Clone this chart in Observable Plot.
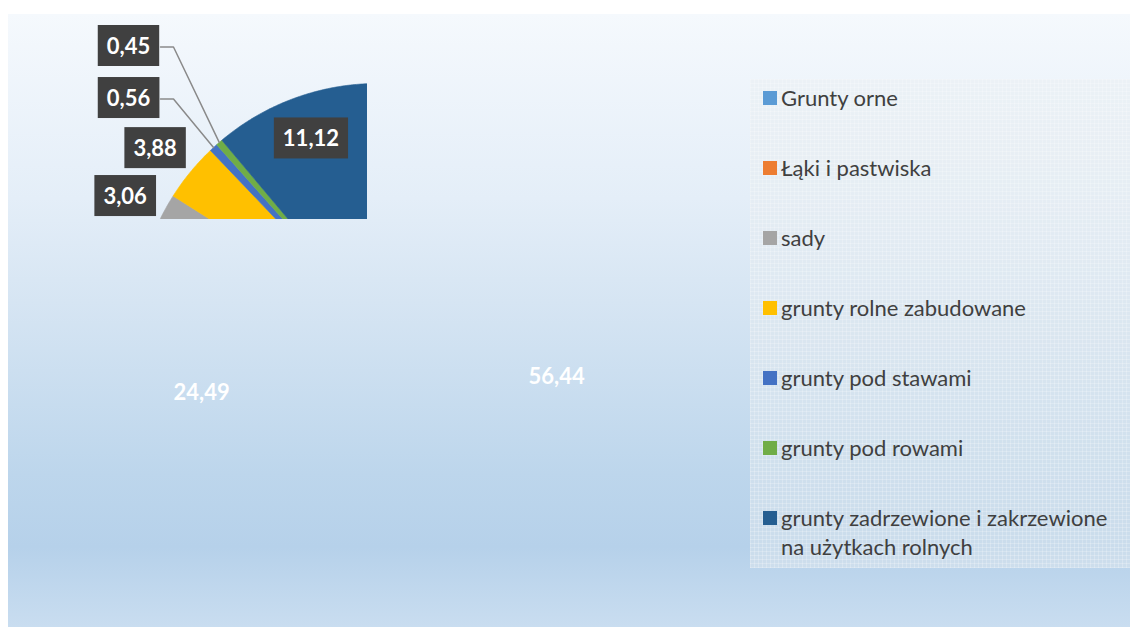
<!DOCTYPE html>
<html>
<head>
<meta charset="utf-8">
<script src="https://cdn.jsdelivr.net/npm/d3@7"></script>
<script src="https://cdn.jsdelivr.net/npm/@observablehq/plot@0.6"></script>
<style>
  html, body { margin: 0; padding: 0; background: #ffffff; }
  #root { position: relative; width: 1130px; height: 628px; overflow: hidden; font-family: Lato, "Open Sans", sans-serif; }
  #bg { position: absolute; left: 8px; top: 14px; width: 1122px; height: 613px;
        background: linear-gradient(to bottom, #f5f9fd 0%, #e4eef8 30%, #d6e5f3 47%, #bdd6ec 75%, #b6d1ea 87%, #c9ddf0 100%); }
  #chart { position: absolute; left: 0; top: 0; }
  #legend { position: absolute; left: 750px; top: 79px; width: 380px; height: 489px;
            background-color: rgba(232, 235, 239, 0.42);
            background-image:
              repeating-linear-gradient(to right, rgba(255,255,255,0.22) 0 1px, transparent 1px 4px),
              repeating-linear-gradient(to bottom, rgba(255,255,255,0.22) 0 1px, transparent 1px 4px); }
  .item { position: absolute; left: 13px; display: flex; align-items: flex-start; }
  .sw { width: 14px; height: 14px; margin-top: 8px; margin-right: 4px; flex: none; }
  .lbl { font-size: 22px; line-height: 29px; color: #404040; width: 360px; white-space: nowrap; }
</style>
</head>
<body>
<div id="root">
  <div id="bg"></div>
  <div id="legend"></div>
</div>
<script>
// ---- data ----
const categories = [
  "Grunty orne",
  "Łąki i pastwiska",
  "sady",
  "grunty rolne zabudowane",
  "grunty pod stawami",
  "grunty pod rowami",
  "grunty zadrzewione i zakrzewione na użytkach rolnych"
];
const values = [56.44, 24.49, 3.06, 3.88, 0.56, 0.45, 11.12];
const colors = ["#5B9BD5", "#ED7D31", "#A5A5A5", "#FFC000", "#4472C4", "#70AD47", "#255E91"];
const legendLines = [
  ["Grunty orne"],
  ["Łąki i pastwiska"],
  ["sady"],
  ["grunty rolne zabudowane"],
  ["grunty pod stawami"],
  ["grunty pod rowami"],
  ["grunty zadrzewione i zakrzewione", "na użytkach rolnych"]
];
// label placement in pie-radius units (relative to the pie centre), as Excel placed them
const labelBoxed = [false, false, true, true, true, true, true];
const labelX = [0.740, -0.727, -1.043, -0.919, -1.029, -1.029, -0.275];
const labelY = [-0.211, -0.277, 0.531, 0.729, 0.936, 1.151, 0.769];
const leaderSlices = [4, 5];          // slices with a leader line
const leaderElbowX = -0.843;

// ---- layout ----
const W = 1130, H = 628;
const cx = 377, cy = 325, R = 242;     // pie centre and radius in pixels
const clipRight = 367, clipBottom = 219; // plot-area clip
const fmt = v => v.toFixed(2).replace(".", ",");

// slice polygons (clockwise from 12 o'clock)
const total = d3.sum(values);
let acc = 0;
const slicePts = [];
const mids = [];
values.forEach((v, i) => {
  const a0 = acc / total * 2 * Math.PI;
  acc += v;
  const a1 = acc / total * 2 * Math.PI;
  mids.push((a0 + a1) / 2);
  const n = Math.max(2, Math.ceil((a1 - a0) / (Math.PI / 360)));
  slicePts.push({cat: categories[i], x: 0, y: 0});
  for (let k = 0; k <= n; k++) {
    const a = a0 + (a1 - a0) * k / n;
    slicePts.push({cat: categories[i], x: Math.sin(a), y: Math.cos(a)});
  }
  slicePts.push({cat: categories[i], x: 0, y: 0});
});

const labelData = values.map((v, i) => ({cat: categories[i], text: fmt(v), x: labelX[i], y: labelY[i], boxed: labelBoxed[i]}));
const boxed = labelData.filter(d => d.boxed);
const plain = labelData.filter(d => !d.boxed);

const boxHalfW = 32 / R;
const leaders = [];
leaderSlices.forEach(i => {
  const a = mids[i];
  leaders.push({cat: categories[i], x: labelX[i] + boxHalfW, y: labelY[i]});
  leaders.push({cat: categories[i], x: leaderElbowX, y: labelY[i]});
  leaders.push({cat: categories[i], x: Math.sin(a), y: Math.cos(a)});
});

const chart = Plot.plot({
  width: W,
  height: H,
  marginLeft: 0,
  marginTop: 0,
  marginRight: W - clipRight,
  marginBottom: H - clipBottom,
  x: {domain: [-1, 1], range: [cx - R, cx + R], axis: null},
  y: {domain: [-1, 1], range: [cy + R, cy - R], axis: null},
  color: {domain: categories, range: colors},
  style: {background: "transparent", fontFamily: "Lato, 'Open Sans', sans-serif", overflow: "visible"},
  marks: [
    Plot.line(slicePts, {x: "x", y: "y", z: "cat", fill: "cat", stroke: "cat", strokeWidth: 0.6, clip: "frame"}),
    Plot.line(leaders, {x: "x", y: "y", z: "cat", stroke: "#8a8a8a", strokeWidth: 1.5}),
    Plot.text(boxed, {x: "x", y: "y", text: "text", fill: "white", fontWeight: "bold", fontSize: 22, ariaDescription: "boxed-labels"}),
    Plot.text(plain, {x: "x", y: "y", text: "text", fill: "white", fontWeight: "bold", fontSize: 22})
  ]
});
chart.id = "chart";
document.getElementById("root").appendChild(chart);

// dark boxes behind the boxed data labels
let g = chart.querySelector('g[aria-description="boxed-labels"]');
if (!g) g = chart.querySelectorAll('g[aria-label="text"]')[0];
const boxG = document.createElementNS("http://www.w3.org/2000/svg", "g");
g.parentNode.insertBefore(boxG, g);
g.querySelectorAll("text").forEach(t => {
  const bb = t.getBBox();
  const m = t.getCTM();
  const r = document.createElementNS("http://www.w3.org/2000/svg", "rect");
  const ccx = bb.x + bb.width / 2, ccy = bb.y + bb.height / 2;
  const w = bb.width + 18, h = 41;
  const px = m.a * ccx + m.c * ccy + m.e, py = m.b * ccx + m.d * ccy + m.f;
  r.setAttribute("x", px - w / 2);
  r.setAttribute("y", py - h / 2);
  r.setAttribute("width", w);
  r.setAttribute("height", h);
  r.setAttribute("fill", "#404040");
  boxG.appendChild(r);
});

// legend
const legend = document.getElementById("legend");
categories.forEach((c, i) => {
  const item = document.createElement("div");
  item.className = "item";
  item.style.top = (19 + 70 * i - 15) + "px";
  const sw = document.createElement("div");
  sw.className = "sw";
  sw.style.background = colors[i];
  const lb = document.createElement("div");
  lb.className = "lbl";
  lb.innerHTML = legendLines[i].join("<br>");
  item.appendChild(sw);
  item.appendChild(lb);
  legend.appendChild(item);
});
</script>
</body>
</html>
